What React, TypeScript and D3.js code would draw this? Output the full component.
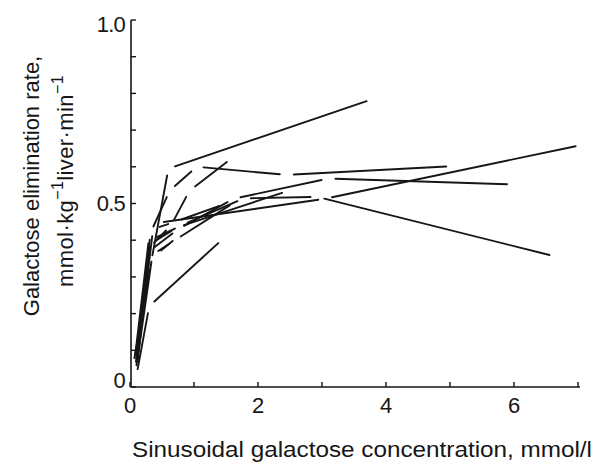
import React from "react";
import * as d3 from "d3";

// Each experiment: [sinusoidal galactose conc (mmol/l), elimination rate (mmol/kg/min)]
const exp1: [number, number][] = [[0.05, 0.06], [0.33, 0.34], [0.6, 0.595], [3.8, 0.785]];
const exp2: [number, number][] = [[0.1, 0.07], [0.32, 0.42], [0.62, 0.535], [1.04, 0.6], [2.45, 0.578], [5.05, 0.602]];
const exp3: [number, number][] = [[0.11, 0.05], [0.3, 0.38], [0.64, 0.44], [0.93, 0.535], [1.6, 0.625]];
const exp4: [number, number][] = [[0.09, 0.04], [0.3, 0.37], [0.75, 0.43], [1.62, 0.513], [3.1, 0.568], [6.0, 0.552]];
const exp5: [number, number][] = [[0.07, 0.07], [0.3, 0.41], [0.42, 0.447], [3.05, 0.513], [7.07, 0.66]];
const exp6: [number, number][] = [[0.09, 0.06], [0.32, 0.4], [0.8, 0.44], [1.78, 0.514], [2.93, 0.518], [6.66, 0.355]];
const exp7: [number, number][] = [[0.12, 0.08], [0.35, 0.36], [0.7, 0.4], [1.65, 0.505]];
const exp8: [number, number][] = [[0.1, 0.03], [0.3, 0.22], [1.46, 0.405]];
const exp9: [number, number][] = [[0.1, 0.09], [0.32, 0.39], [0.74, 0.435], [2.48, 0.535]];
const exp10: [number, number][] = [[0.08, 0.05], [0.28, 0.34], [0.4, 0.36], [0.75, 0.41]];
const exp11: [number, number][] = [[0.12, 0.08], [0.36, 0.43], [0.7, 0.45], [1.5, 0.5]];

const experiments = [exp1, exp2, exp3, exp4, exp5, exp6, exp7, exp8, exp9, exp10, exp11];

const xTicks = [0, 1, 2, 3, 4, 5, 6, 7];
const xTickLabels = ["0", "", "2", "", "4", "", "6", ""];
const yTicks = [0, 0.1, 0.2, 0.3, 0.4, 0.5, 0.6, 0.7, 0.8, 0.9, 1.0];
const yTickLabels = ["0", "", "", "", "", "0.5", "", "", "", "", "1.0"];

const W = 591;
const H = 463;
const FONT = "'Liberation Sans', Arial, Helvetica, sans-serif";
const INK = "#161616";

export default function App() {
  const x = d3.scaleLinear().domain([0, 7]).range([130, 578]);
  const y = d3.scaleLinear().domain([0, 1]).range([387, 20]);
  const gap = 7;

  const segs: { x1: number; y1: number; x2: number; y2: number }[] = [];
  experiments.forEach((e) => {
    for (let i = 0; i < e.length - 1; i++) {
      const ax = x(e[i][0]), ay = y(e[i][1]);
      const bx = x(e[i + 1][0]), by = y(e[i + 1][1]);
      const len = Math.hypot(bx - ax, by - ay);
      if (len <= 2 * gap + 2) continue;
      const ux = (bx - ax) / len, uy = (by - ay) / len;
      segs.push({ x1: ax + ux * gap, y1: ay + uy * gap, x2: bx - ux * gap, y2: by - uy * gap });
    }
  });

  const line = d3.line();

  return (
    <svg width={W} height={H} style={{ position: "absolute", left: 0, top: 0, background: "#fff" }}>
      <rect x={0} y={0} width={W} height={H} fill="#fff" />
      {/* axes */}
      <path d={line([[x(0) + 1, y(1)], [x(0) + 1, y(0)], [x(7) + 2, y(0)]]) || ""} fill="none" stroke={INK} strokeWidth={1.6} />
      {yTicks.map((t, i) => (
        <g key={"yt" + i}>
          <line x1={x(0) + 1} x2={x(0) + 6} y1={y(t)} y2={y(t)} stroke={INK} strokeWidth={1.4} />
          {yTickLabels[i] && (
            <text
              x={125}
              y={i === 0 ? y(t) - 7 : i === 10 ? y(t) + 4 : y(t)}
              textAnchor="end"
              dominantBaseline="central"
              fontFamily={FONT}
              fontSize={22}
              letterSpacing={-0.8}
              fill={INK}
            >
              {yTickLabels[i]}
            </text>
          )}
        </g>
      ))}
      {xTicks.map((t, i) => (
        <g key={"xt" + i}>
          <line x1={x(t)} x2={x(t)} y1={y(0)} y2={y(0) - 5} stroke={INK} strokeWidth={1.4} />
          {xTickLabels[i] && (
            <text x={x(t)} y={413} textAnchor="middle" fontFamily={FONT} fontSize={22} fill={INK}>
              {xTickLabels[i]}
            </text>
          )}
        </g>
      ))}
      {/* data segments */}
      {segs.map((s, i) => (
        <line key={"s" + i} x1={s.x1} y1={s.y1} x2={s.x2} y2={s.y2} stroke={INK} strokeWidth={1.9} strokeLinecap="round" />
      ))}
      {/* axis titles */}
      <text x={132} y={457} fontFamily={FONT} fontSize={22} fill={INK} textLength={460} lengthAdjust="spacingAndGlyphs">
        Sinusoidal galactose concentration, mmol/l
      </text>
      <text transform="translate(39,186) rotate(-90)" textAnchor="middle" fontFamily={FONT} fontSize={22} fill={INK}>
        Galactose elimination rate,
      </text>
      <text transform="translate(73,181) rotate(-90)" textAnchor="middle" fontFamily={FONT} fontSize={22} letterSpacing={0.4} fill={INK}>
        mmol·kg
        <tspan fontSize={16} dy={-10}>−1</tspan>
        <tspan dy={10}>liver·min</tspan>
        <tspan fontSize={16} dy={-10}>−1</tspan>
      </text>
    </svg>
  );
}
